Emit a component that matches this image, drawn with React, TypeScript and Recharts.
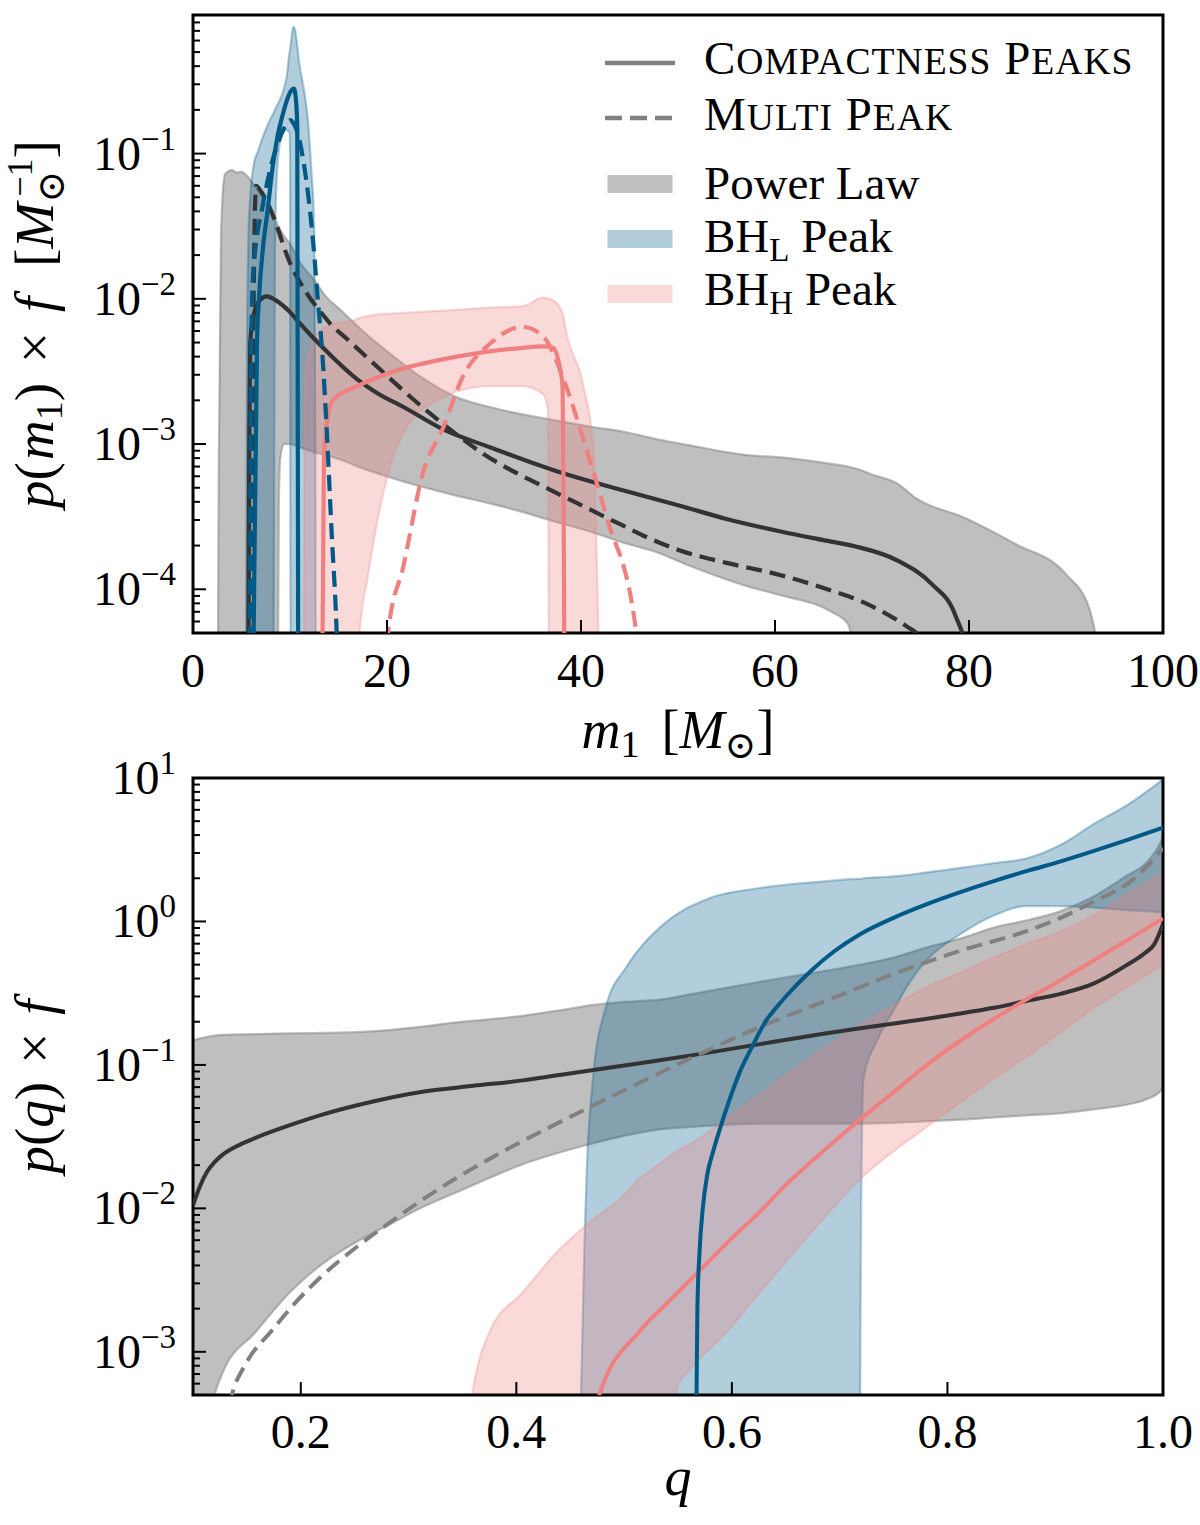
import React from 'react';
import { ComposedChart, Line, Area, XAxis, YAxis, ReferenceArea, Legend } from 'recharts';

const FONT = "'Liberation Serif', 'DejaVu Serif', serif";
const DARK = '#333333';
const GRAY = '#808080';
const BLUE = '#005a87';
const PINK = '#f08080';

// ---------------- Top panel: p(m1) ----------------
const M_TICKS = [0, 20, 40, 60, 80, 100];
const M_DOMAIN = [0, 100];
const PM_DOMAIN = [5e-5, 0.9];

// Power law band
const PL_M_X = [2.55, 2.65, 2.9, 3.3, 4.0, 4.5, 5.0, 5.5, 6.5, 7.5, 8.3, 8.75, 8.85, 9.0, 9.4, 10.0, 11.0, 12.75, 13.4, 15.2, 17.5, 20.3, 23.5, 27.2, 30.6, 34.0, 37.5, 40.9, 44.3, 47.8, 51.2, 57.1, 60.6, 65.8, 67.5, 68.6, 69.9, 72.7, 74.4, 79.6, 84.8, 90.0, 92.4, 93.6, 94.0];
const PL_M_HI = [2e-5, 6e-4, 0.03, 0.072, 0.077, 0.074, 0.075, 0.071, 0.058, 0.045, 0.037, 0.032, 0.031, 0.03, 0.027, 0.024, 0.018, 0.0128, 0.011, 0.0084, 0.006, 0.0042, 0.0029, 0.0021, 0.0018, 0.0016, 0.00145, 0.00132, 0.00122, 0.00108, 0.00098, 0.00084, 0.00081, 0.00073, 0.0007, 0.00067, 0.00062, 0.00053, 0.00043, 0.00031, 0.000205, 0.000127, 0.000074, 0.00003, 0.00002];
const PL_M_LO = [2e-5, 2e-5, 2e-5, 2e-5, 2e-5, 2e-5, 2e-5, 2e-5, 2e-5, 2e-5, 2e-5, 2e-5, 4e-4, 8e-4, 1e-3, 1e-3, 9.5e-4, 8.7e-4, 8.5e-4, 7.8e-4, 6.8e-4, 5.9e-4, 5.1e-4, 4.4e-4, 3.9e-4, 3.4e-4, 2.9e-4, 2.5e-4, 2.1e-4, 1.8e-4, 1.45e-4, 1.05e-4, 9.1e-5, 7e-5, 5.8e-5, 3e-5, 2e-5, 2e-5, 2e-5, 2e-5, 2e-5, 2e-5, 2e-5, 2e-5, 2e-5];
// Power law medians
const PL_M_CP_X = [5.7, 5.8, 5.9, 6.3, 6.9, 7.6, 8.5, 10.0, 11.0, 12.0, 13.0, 14.5, 16.9, 19.0, 21.7, 25.8, 30.6, 37.5, 44.3, 50.2, 55.0, 60.6, 65.0, 68.2, 72.7, 76.2, 78.6, 80.0, 80.5];
const PL_M_CP_Y = [2e-5, 1e-3, 5e-3, 8e-3, 0.0098, 0.0104, 0.0098, 0.0081, 0.0068, 0.00575, 0.0049, 0.0039, 0.0028, 0.00224, 0.0018, 0.00126, 9.5e-4, 6.5e-4, 4.8e-4, 3.76e-4, 3.05e-4, 2.5e-4, 2.18e-4, 1.98e-4, 1.57e-4, 1.08e-4, 6.6e-5, 3e-5, 1e-5];
const PL_M_MP_X = [6.1, 6.25, 6.5, 7.0, 8.0, 10.0, 11.7, 13.3, 14.1, 16.0, 18.4, 24.4, 29.9, 37.5, 40.0, 44.3, 47.0, 50.2, 55.0, 60.6, 65.0, 69.2, 71.6, 73.5, 75.1, 76.0];
const PL_M_MP_Y = [2e-5, 0.01, 0.06, 0.055, 0.041, 0.0177, 0.011, 0.0079, 0.0068, 0.0052, 0.0037, 0.00163, 8.6e-4, 4.6e-4, 3.8e-4, 2.75e-4, 2.25e-4, 1.85e-4, 1.52e-4, 1.25e-4, 1.02e-4, 8.1e-5, 6.7e-5, 5.6e-5, 4.5e-5, 2e-5];

// BH_L peak band
const BL_M_X = [5.45, 5.55, 5.7, 5.9, 6.23, 6.74, 7.94, 8.3, 8.45, 8.6, 8.97, 9.3, 9.66, 9.95, 10.0, 10.05, 10.34, 10.5, 11.0, 11.5, 11.85, 12.2, 12.5, 12.62, 12.66];
const BL_M_HI = [2e-5, 3e-3, 0.025, 0.05, 0.082, 0.106, 0.171, 0.19, 0.2, 0.21, 0.236, 0.27, 0.34, 0.5, 0.52, 0.55, 0.75, 0.72, 0.40, 0.26, 0.17, 0.078, 0.0315, 1e-3, 2e-5];
const BL_M_LO = [2e-5, 2e-5, 2e-5, 2e-5, 2e-5, 2e-5, 2e-5, 2e-5, 0.02, 0.06, 0.12, 0.14, 0.145, 0.14, 0.1, 2e-5, 2e-5, 2e-5, 2e-5, 2e-5, 2e-5, 2e-5, 2e-5, 2e-5, 2e-5];
const BL_M_CP_X = [6.2, 6.3, 6.45, 6.6, 6.8, 7.2, 7.7, 8.2, 8.7, 9.2, 9.7, 10.1, 10.4, 10.6, 10.75, 10.85];
const BL_M_CP_Y = [2e-5, 1e-4, 7e-4, 5e-3, 0.01, 0.022, 0.041, 0.08, 0.13, 0.18, 0.235, 0.27, 0.28, 0.24, 0.15, 2e-5];
const BL_M_MP_X = [5.85, 5.95, 6.1, 6.5, 7.1, 8.0, 8.8, 9.5, 10.0, 10.4, 10.9, 11.37, 12.4, 12.9, 13.3, 13.8, 14.3, 14.8, 15.0];
const BL_M_MP_Y = [2e-5, 1e-3, 0.011, 0.024, 0.041, 0.08, 0.12, 0.155, 0.17, 0.16, 0.13, 0.09, 0.024, 0.0093, 0.0045, 0.0012, 2.4e-4, 5.3e-5, 2e-5];

// BH_H peak band
const BH_M_X = [11.4, 11.5, 11.6, 12.4, 14.1, 17.0, 17.2, 18.0, 18.9, 21.7, 25.8, 27.2, 30.6, 34.0, 36.1, 36.6, 36.7, 37.1, 38.1, 38.5, 40.2, 41.3, 41.6, 41.8, 42.0];
const BH_M_HI = [2e-5, 5e-4, 0.0034, 0.0052, 0.0066, 0.0073, 0.0074, 0.0076, 0.0078, 0.008, 0.0083, 0.0084, 0.0087, 0.0089, 0.0102, 0.0101, 0.01, 0.0098, 0.008, 0.0058, 0.0026, 9e-4, 1.9e-4, 5e-5, 2e-5];
const BH_M_LO = [2e-5, 2e-5, 2e-5, 2e-5, 2e-5, 2e-5, 5e-5, 1.2e-4, 2.7e-4, 1.2e-3, 2.1e-3, 2.3e-3, 2.5e-3, 2.5e-3, 2.2e-3, 1.7e-3, 2e-5, 2e-5, 2e-5, 2e-5, 2e-5, 2e-5, 2e-5, 2e-5, 2e-5];
const BH_M_CP_X = [13.3, 13.4, 13.5, 13.8, 14.4, 16.9, 20.3, 27.2, 34.0, 36.1, 37.1, 37.8, 38.1, 38.2, 38.3];
const BH_M_CP_Y = [2e-5, 1e-4, 8e-4, 0.0014, 0.002, 0.0025, 0.0031, 0.004, 0.0046, 0.0047, 0.0046, 0.0034, 0.0025, 5e-4, 2e-5];
const BH_M_MP_X = [19.9, 20.1, 21.7, 23.7, 25.8, 27.8, 30.6, 34.0, 36.1, 38.2, 40.2, 42.6, 45.7, 46.0];
const BH_M_MP_Y = [2e-5, 5e-5, 1.45e-4, 6.3e-4, 1.3e-3, 2.9e-3, 4.9e-3, 6.4e-3, 5.5e-3, 2.8e-3, 1.1e-3, 3.2e-4, 5e-5, 2e-5];

// ---------------- Bottom panel: p(q) ----------------
const Q_TICKS = [0.2, 0.4, 0.6, 0.8, 1.0];
const Q_DOMAIN = [0.1, 1.0];
const PQ_DOMAIN = [5e-4, 10];

const PL_Q_X = [0.1, 0.11, 0.12, 0.127, 0.158, 0.19, 0.22, 0.251, 0.282, 0.313, 0.344, 0.375, 0.406, 0.44, 0.468, 0.5, 0.533, 0.564, 0.626, 0.688, 0.719, 0.75, 0.781, 0.812, 0.843, 0.874, 0.905, 0.936, 0.967, 0.983, 0.998, 1.0];
const PL_Q_HI = [0.149, 0.155, 0.16, 0.162, 0.164, 0.166, 0.167, 0.169, 0.175, 0.185, 0.198, 0.208, 0.22, 0.24, 0.26, 0.275, 0.285, 0.313, 0.38, 0.454, 0.5, 0.56, 0.66, 0.76, 0.906, 1.02, 1.18, 1.5, 2.1, 2.5, 3.6, 3.9];
const PL_Q_LO = [1e-4, 2e-4, 5e-4, 7e-4, 1.37e-3, 2.6e-3, 4.1e-3, 5.8e-3, 7.7e-3, 0.0102, 0.0129, 0.0163, 0.0203, 0.0245, 0.028, 0.032, 0.0355, 0.037, 0.039, 0.039, 0.039, 0.0395, 0.0405, 0.0415, 0.043, 0.0445, 0.046, 0.049, 0.053, 0.057, 0.066, 0.07];
const PL_Q_CP_X = [0.1, 0.106, 0.113, 0.12, 0.127, 0.14, 0.158, 0.19, 0.22, 0.26, 0.313, 0.36, 0.406, 0.44, 0.5, 0.533, 0.564, 0.626, 0.688, 0.719, 0.781, 0.812, 0.843, 0.874, 0.905, 0.936, 0.967, 0.983, 0.992, 1.0];
const PL_Q_CP_Y = [0.0105, 0.014, 0.018, 0.021, 0.0235, 0.027, 0.031, 0.038, 0.045, 0.054, 0.065, 0.0715, 0.078, 0.0851, 0.0989, 0.1076, 0.117, 0.1396, 0.166, 0.18, 0.21, 0.228, 0.25, 0.28, 0.313, 0.37, 0.5, 0.6, 0.695, 0.96];
const PL_Q_MP_X = [0.125, 0.136, 0.15, 0.173, 0.195, 0.22, 0.25, 0.282, 0.313, 0.344, 0.375, 0.406, 0.44, 0.468, 0.502, 0.564, 0.626, 0.688, 0.75, 0.812, 0.874, 0.905, 0.936, 0.967, 0.985, 1.0];
const PL_Q_MP_Y = [2e-4, 5e-4, 8.5e-4, 1.4e-3, 2.2e-3, 3.4e-3, 5.25e-3, 7.9e-3, 0.0115, 0.0162, 0.0221, 0.0295, 0.0398, 0.0507, 0.0676, 0.1135, 0.184, 0.281, 0.43, 0.625, 0.86, 1.06, 1.38, 1.83, 2.4, 3.25];

const BL_Q_X = [0.456, 0.46, 0.463, 0.465, 0.471, 0.483, 0.502, 0.533, 0.58, 0.626, 0.688, 0.7185, 0.7195, 0.722, 0.735, 0.75, 0.766, 0.781, 0.812, 0.843, 0.874, 0.905, 0.936, 0.967, 1.0];
const BL_Q_HI = [1e-4, 5e-4, 5e-3, 0.016, 0.079, 0.253, 0.48, 0.906, 1.46, 1.71, 1.91, 1.98, 1.98, 2.0, 2.03, 2.06, 2.12, 2.2, 2.36, 2.55, 2.76, 3.42, 4.8, 6.5, 9.8];
const BL_Q_LO = [1e-4, 1e-4, 1e-4, 1e-4, 1e-4, 1e-4, 1e-4, 1e-4, 1e-4, 1e-4, 1e-4, 1e-4, 0.003, 0.079, 0.149, 0.24, 0.387, 0.54, 0.815, 1.1, 1.28, 1.28, 1.25, 1.2, 1.16];
const BL_Q_CP_X = [0.566, 0.5672, 0.568, 0.57, 0.573, 0.577, 0.582, 0.589, 0.597, 0.607, 0.619, 0.632, 0.641, 0.65, 0.673, 0.695, 0.719, 0.75, 0.781, 0.812, 0.843, 0.874, 0.905, 0.936, 0.967, 1.0];
const BL_Q_CP_Y = [1e-4, 5e-4, 2e-3, 5e-3, 0.01, 0.017, 0.024, 0.036, 0.055, 0.088, 0.135, 0.205, 0.25, 0.3, 0.45, 0.62, 0.815, 1.06, 1.32, 1.6, 1.91, 2.25, 2.62, 3.1, 3.7, 4.5];

const BH_Q_X = [0.35, 0.355, 0.359, 0.375, 0.406, 0.437, 0.468, 0.499, 0.514, 0.533, 0.545, 0.549, 0.561, 0.595, 0.626, 0.657, 0.688, 0.719, 0.75, 0.781, 0.812, 0.843, 0.874, 0.905, 0.936, 0.967, 1.0];
const BH_Q_HI = [1e-4, 3e-4, 5e-4, 1.37e-3, 2.6e-3, 4.9e-3, 8e-3, 0.0122, 0.016, 0.0204, 0.024, 0.025, 0.028, 0.042, 0.062, 0.092, 0.134, 0.19, 0.26, 0.348, 0.44, 0.56, 0.7, 0.85, 1.1, 1.55, 2.2];
const BH_Q_LO = [1e-4, 1e-4, 1e-4, 1e-4, 1e-4, 1e-4, 1e-4, 1e-4, 1e-4, 1e-4, 1e-4, 5.6e-4, 7.5e-4, 1.37e-3, 2.6e-3, 4.9e-3, 9e-3, 0.016, 0.025, 0.037, 0.055, 0.08, 0.115, 0.17, 0.25, 0.35, 0.5];
const BH_Q_CP_X = [0.47, 0.477, 0.514, 0.54, 0.568, 0.6, 0.626, 0.651, 0.688, 0.719, 0.75, 0.781, 0.812, 0.843, 0.874, 0.905, 0.936, 0.967, 1.0];
const BH_Q_CP_Y = [1e-4, 5e-4, 1.38e-3, 2.19e-3, 3.55e-3, 6.2e-3, 9.5e-3, 0.0148, 0.0263, 0.0417, 0.0646, 0.1, 0.148, 0.209, 0.288, 0.389, 0.537, 0.741, 1.05];

// Legend
const LEGEND_LINES = [
  { label: 'Compactness Peaks', dash: '' },
  { label: 'Multi Peak', dash: '17 8' },
];
const LEGEND_FILLS = [
  { main: 'Power Law', sub: '', rest: '', color: GRAY, alpha: 0.5 },
  { main: 'BH', sub: 'L', rest: ' Peak', color: BLUE, alpha: 0.3 },
  { main: 'BH', sub: 'H', rest: ' Peak', color: PINK, alpha: 0.3 },
];

// ---------------- helpers ----------------
const zip = (xs: number[], ys: number[]) => xs.map((x, i) => ({ x, v: ys[i] }));
const zipBand = (xs: number[], lo: number[], hi: number[]) => xs.map((x, i) => ({ x, v: [lo[i], hi[i]] }));

const logTicks = (lo: number, hi: number) => {
  const out: number[] = [];
  for (let e = Math.floor(Math.log10(lo)); e <= Math.ceil(Math.log10(hi)); e++) {
    for (let k = 1; k <= 9; k++) {
      const v = k * Math.pow(10, e);
      if (v >= lo * 0.999 && v <= hi * 1.001) out.push(Number(v.toPrecision(6)));
    }
  }
  return out;
};

const YTick = (props: any) => {
  const { x, y, payload } = props;
  const v = payload.value;
  const e = Math.log10(v);
  const major = Math.abs(e - Math.round(e)) < 1e-6;
  const ex = Math.round(e);
  return (
    <g>
      <line x1={x} x2={x + (major ? 13 : 7)} y1={y} y2={y} stroke="#000" strokeWidth={2} />
      {major && (
        <text x={x - 17} y={y + 16} textAnchor="end" fontFamily={FONT} fontSize={48} fill="#000">
          10
          <tspan dy={-20} fontSize={33}>{ex < 0 ? '\u2212' + -ex : String(ex)}</tspan>
        </text>
      )}
    </g>
  );
};

const makeXTick = (fmt: (v: number) => string, dyText: number) => (props: any) => {
  const { x, y, payload } = props;
  return (
    <g>
      <line x1={x} x2={x} y1={y} y2={y - 13} stroke="#000" strokeWidth={2} />
      <text x={x} y={y + dyText} textAnchor="middle" fontFamily={FONT} fontSize={48} fill="#000">
        {fmt(payload.value)}
      </text>
    </g>
  );
};

const MLabel = (props: any) => {
  const vb = props.viewBox || { x: 193, y: 633, width: 970, height: 142 };
  const cx = vb.x + vb.width / 2;
  return (
    <text x={cx} y={vb.y + 115} textAnchor="middle" fontFamily={FONT} fontSize={54} fill="#000">
      <tspan fontStyle="italic">m</tspan>
      <tspan fontSize={38} dy={9}>1</tspan>
      <tspan dy={-9} dx={22}>[</tspan>
      <tspan fontStyle="italic">M</tspan>
      <tspan fontSize={38} dy={10}>{'\u2299'}</tspan>
      <tspan dy={-10}>]</tspan>
    </text>
  );
};

const QLabel = (props: any) => {
  const vb = props.viewBox || { x: 193, y: 655, width: 970, height: 130 };
  const cx = vb.x + vb.width / 2;
  return (
    <text x={cx} y={vb.y + 100} textAnchor="middle" fontFamily={FONT} fontSize={54} fontStyle="italic" fill="#000">
      q
    </text>
  );
};

const PMLabel = (props: any) => {
  const vb = props.viewBox || { x: 0, y: 15, width: 193, height: 618 };
  const cx = vb.x + 53;
  const cy = vb.y + vb.height / 2;
  return (
    <text transform={`translate(${cx},${cy}) rotate(-90)`} textAnchor="middle" fontFamily={FONT} fontSize={55} fill="#000">
      <tspan fontStyle="italic">p</tspan>
      <tspan>(</tspan>
      <tspan fontStyle="italic" dx={2}>m</tspan>
      <tspan fontSize={38} dy={9}>1</tspan>
      <tspan dy={-9}>)</tspan>
      <tspan dx={20}>{'\u00d7'}</tspan>
      <tspan dx={20} fontStyle="italic">f</tspan>
      <tspan dx={30}>[</tspan>
      <tspan fontStyle="italic">M</tspan>
      <tspan fontSize={38} dy={11}>{'\u2299'}</tspan>
      <tspan fontSize={36} dx={-26} dy={-32}>{'\u22121'}</tspan>
      <tspan dy={21}>]</tspan>
    </text>
  );
};

const PQLabel = (props: any) => {
  const vb = props.viewBox || { x: 0, y: 38, width: 193, height: 617 };
  const cx = vb.x + 53;
  const cy = vb.y + vb.height / 2;
  return (
    <text transform={`translate(${cx},${cy}) rotate(-90)`} textAnchor="middle" fontFamily={FONT} fontSize={55} fill="#000">
      <tspan fontStyle="italic">p</tspan>
      <tspan>(</tspan>
      <tspan fontStyle="italic">q</tspan>
      <tspan>)</tspan>
      <tspan dx={18}>{'\u00d7'}</tspan>
      <tspan dx={18} fontStyle="italic">f</tspan>
    </text>
  );
};

const SmallCaps = ({ text, x, y, size }: { text: string; x: number; y: number; size: number }) => {
  const words = text.split(' ');
  const parts: React.ReactNode[] = [];
  words.forEach((w, i) => {
    parts.push(<tspan key={'a' + i} fontSize={size}>{(i > 0 ? ' ' : '') + w[0]}</tspan>);
    parts.push(<tspan key={'b' + i} fontSize={size * 0.8}>{w.slice(1).toUpperCase()}</tspan>);
  });
  return (
    <text x={x} y={y} fontFamily={FONT} fill="#000" letterSpacing={1}>
      {parts}
    </text>
  );
};

const TopLegend = () => (
  <svg width={580} height={300} style={{ display: 'block' }}>
    {LEGEND_LINES.map((d, i) => (
      <g key={d.label}>
        <line x1={15} x2={85} y1={43 + i * 55} y2={43 + i * 55} stroke={GRAY} strokeWidth={4.5} strokeDasharray={d.dash || undefined} />
        <SmallCaps text={d.label} x={114} y={54 + i * 56} size={47} />
      </g>
    ))}
    {LEGEND_FILLS.map((d, i) => (
      <g key={d.main + d.sub}>
        <rect x={17.5} y={155 + i * 55} width={65} height={18} fill={d.color} fillOpacity={d.alpha} />
        <text x={114} y={179 + i * 53} fontFamily={FONT} fontSize={47} fill="#000">
          {d.main}
          {d.sub && (
            <tspan fontSize={33} dy={9}>
              {d.sub}
            </tspan>
          )}
          {d.sub && <tspan dy={-9}>{d.rest}</tspan>}
        </text>
      </g>
    ))}
  </svg>
);

const bandProps = (color: string, alpha: number) => ({
  type: 'monotone' as const,
  dataKey: 'v',
  fill: color,
  fillOpacity: alpha,
  stroke: color,
  strokeOpacity: alpha,
  strokeWidth: 2.2,
  isAnimationActive: false,
  dot: false,
  activeDot: false,
  legendType: 'none' as const,
});

const lineProps = (color: string, width: number, dash?: string) => ({
  type: 'monotone' as const,
  dataKey: 'v',
  stroke: color,
  strokeWidth: width,
  strokeDasharray: dash,
  dot: false,
  activeDot: false,
  isAnimationActive: false,
  legendType: 'none' as const,
});

const TopChart = () => (
  <ComposedChart width={1200} height={775} margin={{ top: 15, right: 37, bottom: 0, left: 0 }}>
    <XAxis
      type="number"
      dataKey="x"
      domain={M_DOMAIN}
      allowDataOverflow
      ticks={M_TICKS}
      interval={0}
      height={142}
      tickSize={0}
      tickMargin={0}
      tickLine={false}
      axisLine={false}
      tick={makeXTick((v) => String(v), 54)}
      label={<MLabel />}
    />
    <YAxis
      type="number"
      scale="log"
      domain={PM_DOMAIN}
      allowDataOverflow
      ticks={logTicks(PM_DOMAIN[0], PM_DOMAIN[1])}
      interval={0}
      width={193}
      tickSize={0}
      tickMargin={0}
      tickLine={false}
      axisLine={false}
      tick={<YTick />}
      label={<PMLabel />}
    />
    <Area data={zipBand(PL_M_X, PL_M_LO, PL_M_HI)} {...bandProps(GRAY, 0.5)} />
    <Area data={zipBand(BL_M_X, BL_M_LO, BL_M_HI)} {...bandProps(BLUE, 0.3)} />
    <Area data={zipBand(BH_M_X, BH_M_LO, BH_M_HI)} {...bandProps(PINK, 0.3)} />
    <Line data={zip(PL_M_CP_X, PL_M_CP_Y)} {...lineProps(DARK, 4.2)} />
    <Line data={zip(PL_M_MP_X, PL_M_MP_Y)} {...lineProps(DARK, 4.2, '16 8')} />
    <Line data={zip(BH_M_CP_X, BH_M_CP_Y)} {...lineProps(PINK, 4.2)} />
    <Line data={zip(BH_M_MP_X, BH_M_MP_Y)} {...lineProps(PINK, 4.2, '16 8')} />
    <Line data={zip(BL_M_CP_X, BL_M_CP_Y)} {...lineProps(BLUE, 4.2)} />
    <Line data={zip(BL_M_MP_X, BL_M_MP_Y)} {...lineProps(BLUE, 4.2, '16 8')} />
    <ReferenceArea x1={M_DOMAIN[0]} x2={M_DOMAIN[1]} y1={PM_DOMAIN[0]} y2={PM_DOMAIN[1]} fill="none" stroke="#000" strokeWidth={3} ifOverflow="visible" />
    <Legend
      layout="vertical"
      align="center"
      verticalAlign="middle"
      content={() => <TopLegend />}
      wrapperStyle={{ position: 'absolute', left: 590, top: 20, width: 580, height: 300 }}
    />
  </ComposedChart>
);

const BottomChart = () => (
  <ComposedChart width={1200} height={785} margin={{ top: 38, right: 37, bottom: 0, left: 0 }}>
    <XAxis
      type="number"
      dataKey="x"
      domain={Q_DOMAIN}
      allowDataOverflow
      ticks={Q_TICKS}
      interval={0}
      height={130}
      tickSize={0}
      tickMargin={0}
      tickLine={false}
      axisLine={false}
      tick={makeXTick((v) => v.toFixed(1), 53)}
      label={<QLabel />}
    />
    <YAxis
      type="number"
      scale="log"
      domain={PQ_DOMAIN}
      allowDataOverflow
      ticks={logTicks(PQ_DOMAIN[0], PQ_DOMAIN[1])}
      interval={0}
      width={193}
      tickSize={0}
      tickMargin={0}
      tickLine={false}
      axisLine={false}
      tick={<YTick />}
      label={<PQLabel />}
    />
    <Area data={zipBand(PL_Q_X, PL_Q_LO, PL_Q_HI)} {...bandProps(GRAY, 0.5)} />
    <Area data={zipBand(BL_Q_X, BL_Q_LO, BL_Q_HI)} {...bandProps(BLUE, 0.3)} />
    <Area data={zipBand(BH_Q_X, BH_Q_LO, BH_Q_HI)} {...bandProps(PINK, 0.3)} />
    <Line data={zip(PL_Q_CP_X, PL_Q_CP_Y)} {...lineProps(DARK, 4)} />
    <Line data={zip(PL_Q_MP_X, PL_Q_MP_Y)} {...lineProps(GRAY, 4, '16 8')} />
    <Line data={zip(BH_Q_CP_X, BH_Q_CP_Y)} {...lineProps(PINK, 4)} />
    <Line data={zip(BL_Q_CP_X, BL_Q_CP_Y)} {...lineProps(BLUE, 4)} />
    <ReferenceArea x1={Q_DOMAIN[0]} x2={Q_DOMAIN[1]} y1={PQ_DOMAIN[0]} y2={PQ_DOMAIN[1]} fill="none" stroke="#000" strokeWidth={3} ifOverflow="visible" />
  </ComposedChart>
);

export default function App() {
  return (
    <div style={{ position: 'absolute', left: 0, top: 0, width: 1200, height: 1525, background: '#fff' }}>
      <div style={{ position: 'absolute', left: 0, top: 0 }}>
        <TopChart />
      </div>
      <div style={{ position: 'absolute', left: 0, top: 740 }}>
        <BottomChart />
      </div>
    </div>
  );
}
